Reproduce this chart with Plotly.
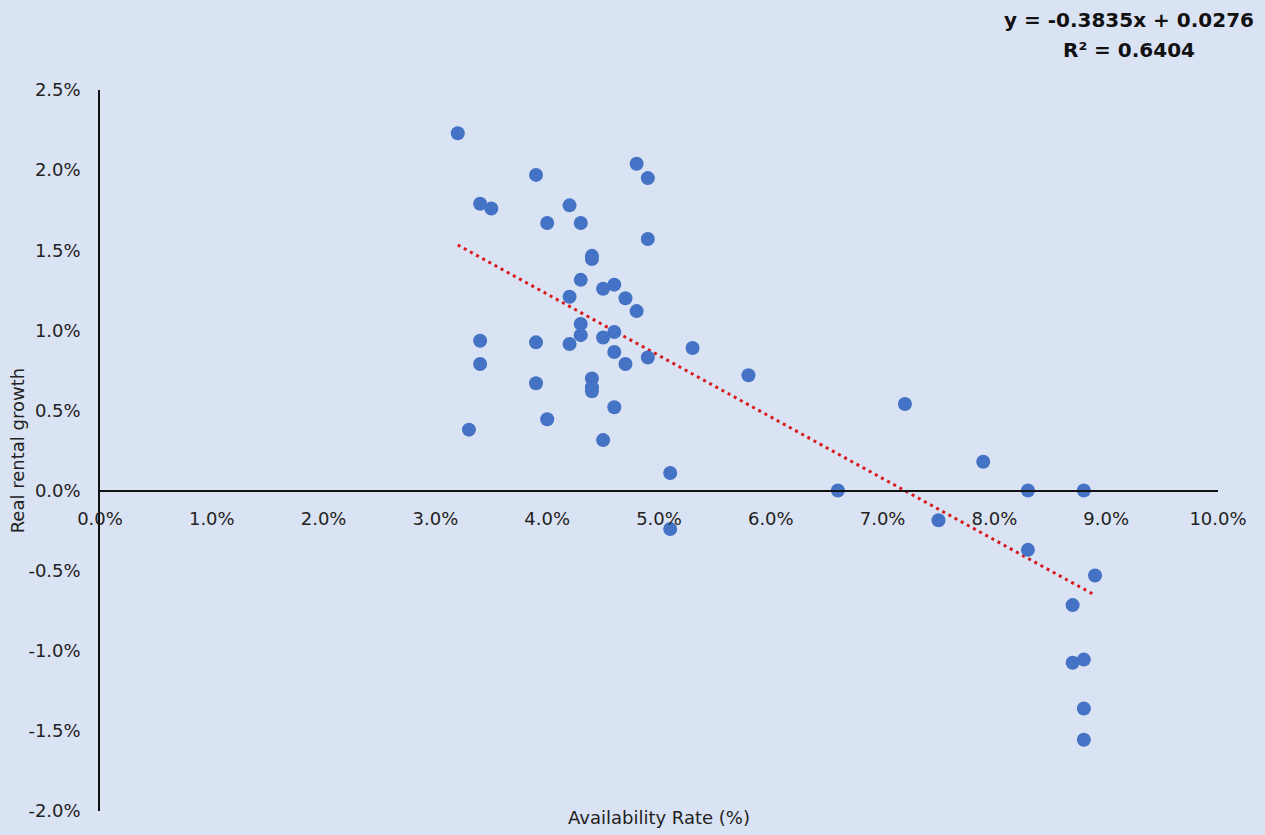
import plotly.graph_objects as go

# Availability rate (%) and real rental growth (%)
availability = [3.2, 3.9, 3.4, 3.5, 4.0, 4.2, 4.3, 4.8, 4.9, 4.9,
                4.4, 4.4, 4.3, 4.6, 4.5, 4.2, 4.7, 4.8, 4.3, 4.6,
                4.3, 4.5, 3.4, 3.9, 4.2, 4.6, 4.9, 5.3, 4.7, 3.4,
                5.8, 4.4, 4.4, 4.4, 3.9, 4.6, 4.0, 7.2, 3.3, 4.5,
                5.1, 7.9, 6.6, 8.3, 8.8, 5.1, 7.5, 8.3, 8.9, 8.7,
                8.7, 8.8, 8.8, 8.8]
rental_growth = [2.23, 1.97, 1.79, 1.76, 1.67, 1.78, 1.67, 2.04, 1.95, 1.57,
                 1.465, 1.445, 1.315, 1.285, 1.26, 1.21, 1.20, 1.12, 1.04, 0.99,
                 0.97, 0.955, 0.935, 0.925, 0.915, 0.865, 0.83, 0.89, 0.79, 0.79,
                 0.72, 0.70, 0.645, 0.62, 0.67, 0.52, 0.445, 0.54, 0.38, 0.315,
                 0.11, 0.18, 0.0, 0.0, 0.0, -0.24, -0.185, -0.37, -0.53, -0.715,
                 -1.075, -1.055, -1.36, -1.555]

# Trendline coefficients (fraction units) as shown on chart
slope = -0.3835
intercept = 0.0276
equation_text = "y = -0.3835x + 0.0276"
r2_text = "R² = 0.6404"

x_ticks = [0, 1, 2, 3, 4, 5, 6, 7, 8, 9, 10]
x_tick_labels = ["0.0%", "1.0%", "2.0%", "3.0%", "4.0%", "5.0%", "6.0%", "7.0%", "8.0%", "9.0%", "10.0%"]
y_ticks = [2.5, 2.0, 1.5, 1.0, 0.5, 0.0, -0.5, -1.0, -1.5, -2.0]
y_tick_labels = ["2.5%", "2.0%", "1.5%", "1.0%", "0.5%", "0.0%", "-0.5%", "-1.0%", "-1.5%", "-2.0%"]

x_min, x_max = min(availability), max(availability)
trend_x = [x_min, x_max]
trend_y = [(slope * (v / 100) + intercept) * 100 for v in trend_x]

BG = "#DAE3F3"
FONT = "DejaVu Sans"

fig = go.Figure()
fig.add_trace(go.Scatter(
    x=trend_x, y=trend_y, mode="lines",
    line=dict(color="#D7191C", width=3, dash="3px,4px"),
    showlegend=False, hoverinfo="skip"))
fig.add_trace(go.Scatter(
    x=availability, y=rental_growth, mode="markers",
    marker=dict(color="#4472C4", size=14, line=dict(width=0)),
    showlegend=False))

fig.update_layout(
    width=1265, height=835,
    paper_bgcolor=BG, plot_bgcolor=BG,
    margin=dict(l=100, r=47, t=90, b=24),
    font=dict(family=FONT, size=18, color="#222222"),
    xaxis=dict(range=[0, 10], tickvals=x_ticks, ticktext=x_tick_labels,
               showgrid=False, zeroline=False, showline=True,
               linecolor="#111111", linewidth=1.5,
               anchor="free", position=2.0 / 4.5,
               ticks="", ticklabelstandoff=12),
    yaxis=dict(range=[-2, 2.5], tickvals=y_ticks, ticktext=y_tick_labels,
               showgrid=False, zeroline=False, showline=True,
               linecolor="#111111", linewidth=1.5,
               ticks="", ticklabelstandoff=14),
    annotations=[
        dict(text="<b>" + equation_text + "</b>",
             x=0.92, y=(811 - 20) / 721, xref="paper", yref="paper",
             xanchor="center", yanchor="middle", showarrow=False,
             font=dict(family=FONT, size=20, color="#111111")),
        dict(text="<b>" + r2_text + "</b>",
             x=0.92, y=(811 - 50) / 721, xref="paper", yref="paper",
             xanchor="center", yanchor="middle", showarrow=False,
             font=dict(family=FONT, size=20, color="#111111")),
        dict(text="Real rental growth", x=-0.0735, y=0.5, xref="paper", yref="paper",
             textangle=-90, xanchor="center", yanchor="middle", showarrow=False,
             font=dict(family=FONT, size=18, color="#222222")),
        dict(text="Availability Rate (%)", x=0.5, y=-0.0097, xref="paper", yref="paper",
             xanchor="center", yanchor="middle", showarrow=False,
             font=dict(family=FONT, size=18, color="#222222")),
    ],
)

fig.write_html("out.html", config={"displayModeBar": False},
               post_script="document.body.style.margin='0';")
